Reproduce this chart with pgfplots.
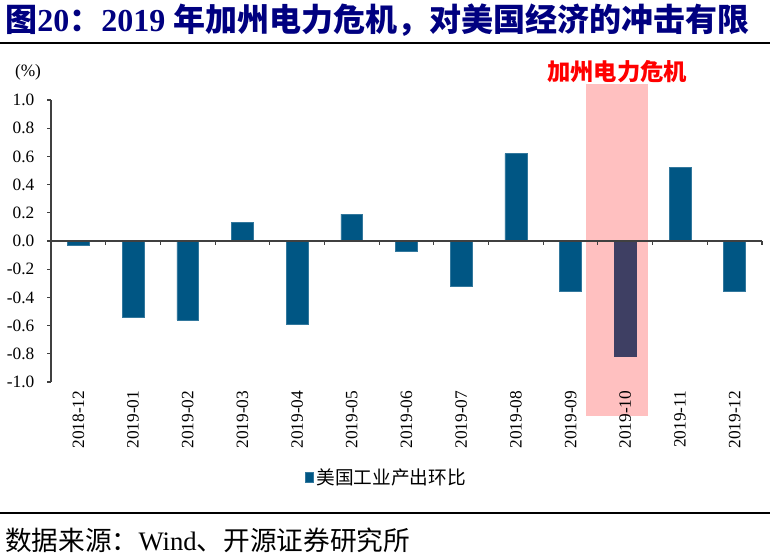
\documentclass[border=0pt]{standalone}
\usepackage{fontspec}
\setmainfont{Liberation Serif}
\newfontfamily\cjk{Noto Sans CJK SC}
\usepackage{pgfplots}
\pgfplotsset{compat=1.18}
\definecolor{barblue}{RGB}{0,86,132}
\definecolor{bardark}{RGB}{62,63,99}
\definecolor{hlpink}{RGB}{255,192,192}
\definecolor{titleblue}{RGB}{0,0,128}
\definecolor{axisgray}{RGB}{64,64,64}
\pgfplotsset{frame/.style={at={(38.25pt,-286.5pt)}, anchor=south west,
  scale only axis, width=533.25pt, height=211.5pt,
  xmin=-0.5, xmax=12.5, ymin=-1, ymax=1, clip=false}}
\begin{document}
\begin{tikzpicture}
\path[use as bounding box] (0pt,0pt) rectangle (577.5pt,-417pt);
\node[anchor=west, text=titleblue, font=\fontsize{24}{28}\selectfont\bfseries, inner sep=0] at (3.75pt,-15pt) {{\cjk\bfseries 图}20{\cjk\bfseries ：}2019 {\cjk\bfseries 年加州电力危机，对美国经济的冲击有限}};
\draw[line width=1.5pt] (0pt,-32pt) -- (577.5pt,-32pt);
\draw[line width=1.2pt] (0pt,-384.75pt) -- (577.5pt,-384.75pt);
\node[anchor=west, font=\fontsize{20}{24}\selectfont, inner sep=0] at (3.75pt,-405pt) {{\cjk 数据来源：}Wind{\cjk 、开源证券研究所}};
\node[font=\fontsize{13}{15}\selectfont, inner sep=0] at (21pt,-54pt) {(\%)};
\node[font=\fontsize{17.5}{20}\selectfont\cjk\bfseries, text=red, inner sep=0] at (462.75pt,-54pt) {加州电力危机};
\begin{axis}[frame, hide axis]
\fill[hlpink] (axis cs:9.29,1.11) rectangle (axis cs:10.41,-1.24);
\end{axis}
\begin{axis}[
  frame,
  axis y line*=left, axis x line*=bottom,
  x axis line style={draw=none},
  y axis line style={draw=axisgray, line width=0.8pt},
  xtick={0,1,2,3,4,5,6,7,8,9,10,11,12},
  xticklabels={2018-12,2019-01,2019-02,2019-03,2019-04,2019-05,2019-06,2019-07,2019-08,2019-09,2019-10,2019-11,2019-12},
  x tick label style={rotate=90, anchor=east, font=\fontsize{13}{15}\selectfont},
  xtick style={draw=none},
  ytick={-1,-0.8,-0.6,-0.4,-0.2,0,0.2,0.4,0.6,0.8,1},
  yticklabels={-1.0,-0.8,-0.6,-0.4,-0.2,0.0,0.2,0.4,0.6,0.8,1.0},
  y tick label style={font=\fontsize{13}{15}\selectfont},
  ytick style={draw=axisgray, line width=0.8pt},
  tick align=outside, major tick length=3pt,
  yticklabel shift=6pt,
  legend style={at={(axis cs:5.64,-1.675)}, anchor=center, draw=none, fill=none, font=\fontsize{14}{16}\selectfont\cjk, inner sep=0pt},
  legend image code/.code={\fill[#1] (0pt,-3.5pt) rectangle (6pt,3.5pt);},
]
\addplot[ybar, bar width=0.4, bar shift=0pt, fill=barblue, draw=barblue!80!white] coordinates {
 (0,-0.03) (1,-0.54) (2,-0.56) (3,0.13) (4,-0.59) (5,0.19) (6,-0.07) (7,-0.32) (8,0.62) (9,-0.36) (11,0.52) (12,-0.36)};
\addlegendentry{美国工业产出环比}
\addplot[ybar, bar width=0.4, bar shift=0pt, fill=bardark, draw=bardark, forget plot] coordinates {(10,-0.82)};
\draw[axisgray, line width=0.9pt] (axis cs:-0.5,0) -- (axis cs:12.5,0);
\pgfplotsinvokeforeach{0.5,1.5,2.5,3.5,4.5,5.5,6.5,7.5,8.5,9.5,10.5,11.5,12.5}{
  \draw[axisgray, line width=0.8pt] (axis cs:#1,0) -- ([yshift=-3pt]axis cs:#1,0);
}
\end{axis}
\end{tikzpicture}
\end{document}
